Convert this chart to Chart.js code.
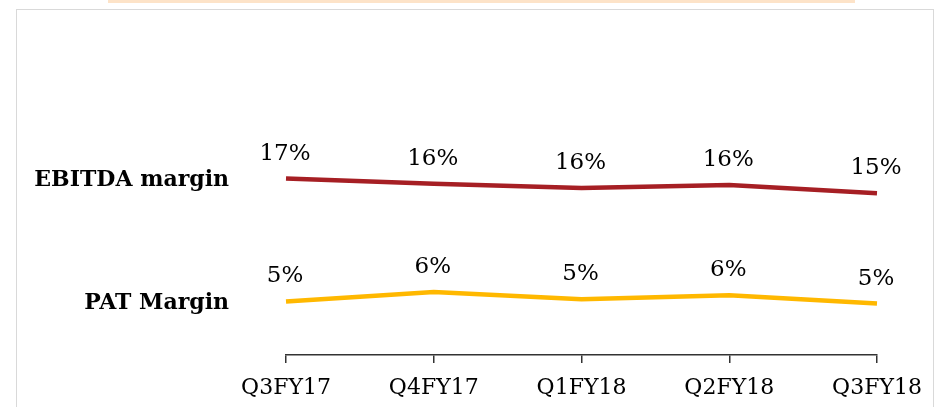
<!DOCTYPE html>
<html>
<head>
<meta charset="utf-8">
<script src="https://cdn.jsdelivr.net/npm/chart.js@4.4.1/dist/chart.umd.min.js"></script>
<style>
  body { margin: 0; background: #fff; }
  #wrap { position: relative; width: 938px; height: 407px; overflow: hidden; }
  #banner { position: absolute; left: 108px; top: 0; width: 747px; height: 3px; background: #fde3c8; }
  #frame { position: absolute; left: 16px; top: 9px; width: 916px; height: 460px; border: 1px solid #d9d9d9; }
  canvas { position: absolute; left: 0; top: 0; }
</style>
</head>
<body>
<div id="wrap">
  <div id="banner"></div>
  <div id="frame"></div>
  <canvas id="chart" width="938" height="407"></canvas>
</div>
<script>
const quarters = ["Q3FY17", "Q4FY17", "Q1FY18", "Q2FY18", "Q3FY18"];
const ebitdaMargin = [16.8, 16.3, 15.9, 16.2, 15.4];
const patMargin = [5.1, 6.0, 5.3, 5.7, 4.9];
const seriesNames = ["EBITDA margin", "PAT Margin"];

const serif = "'DejaVu Serif', 'Liberation Serif', serif";

// percent labels above points and series names left of the lines
const labelPlugin = {
  id: "labels",
  afterDatasetsDraw(chart) {
    const ctx = chart.ctx;
    ctx.save();
    chart.data.datasets.forEach((ds, i) => {
      const meta = chart.getDatasetMeta(i);
      ctx.fillStyle = "#000";
      ctx.font = "23px " + serif;
      ctx.textAlign = "center";
      ctx.textBaseline = "middle";
      meta.data.forEach((pt, j) => {
        ctx.fillText(Math.round(ds.data[j]) + "%", pt.x - 1, pt.y - 25);
      });
      ctx.font = "bold 22px " + serif;
      ctx.textAlign = "right";
      ctx.fillText(ds.label, 229, meta.data[0].y + 2);
    });
    ctx.restore();
  }
};

new Chart(document.getElementById("chart"), {
  type: "line",
  data: {
    labels: quarters,
    datasets: [
      {
        label: seriesNames[0],
        data: ebitdaMargin,
        borderColor: "#a61f24",
        borderWidth: 4.5,
        pointRadius: 0,
        tension: 0,
      },
      {
        label: seriesNames[1],
        data: patMargin,
        borderColor: "#ffb800",
        borderWidth: 4.5,
        pointRadius: 0,
        tension: 0,
      },
    ],
  },
  options: {
    responsive: false,
    animation: false,
    layout: {
      padding: { left: 286, right: 61, top: 103, bottom: 0 },
    },
    plugins: {
      legend: { display: false },
      tooltip: { enabled: false },
    },
    scales: {
      y: {
        display: false,
        min: 0,
        max: 24,
      },
      x: {
        offset: false,
        afterFit: (scale) => { scale.height = 52; },
        border: { display: true, color: "#333", width: 1.5 },
        grid: {
          drawOnChartArea: false,
          drawTicks: true,
          tickLength: 8,
          color: "#333",
          lineWidth: 1.5,
        },
        ticks: {
          color: "#000",
          padding: 12,
          maxRotation: 0,
          font: { size: 22, family: serif },
        },
      },
    },
  },
  plugins: [labelPlugin],
});
</script>
</body>
</html>
